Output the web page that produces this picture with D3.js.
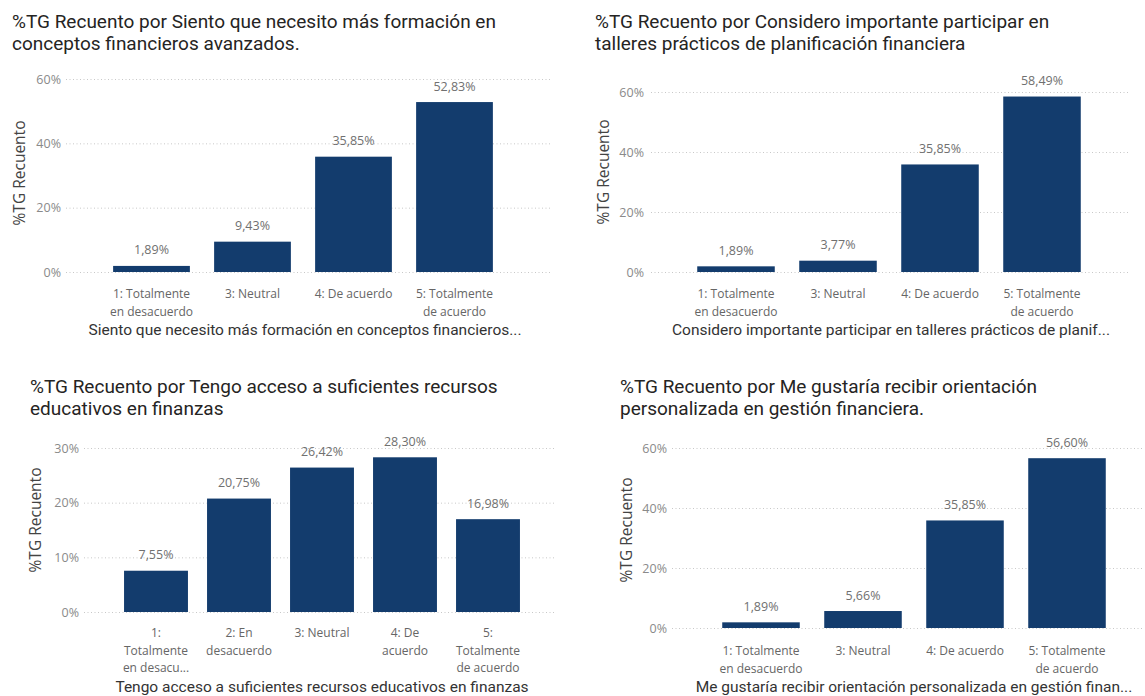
<!DOCTYPE html>
<html>
<head>
<meta charset="utf-8">
<script src="https://cdn.jsdelivr.net/npm/d3@7"></script>
<style>
  html, body { margin: 0; padding: 0; background: #ffffff; }
  svg { display: block; }
</style>
</head>
<body>
<svg id="chart" width="1145" height="696"></svg>
<script>
// ---------- DATA ----------
const title1 = ["%TG Recuento por Siento que necesito más formación en", "conceptos financieros avanzados."];
const cats1 = ["1: Totalmente en desacuerdo", "3: Neutral", "4: De acuerdo", "5: Totalmente de acuerdo"];
const vals1 = [1.89, 9.43, 35.85, 52.83];
const ticks1 = [0, 20, 40, 60];
const catLabels1 = [["1: Totalmente", "en desacuerdo"], ["3: Neutral"], ["4: De acuerdo"], ["5: Totalmente", "de acuerdo"]];
const xTitle1 = "Siento que necesito más formación en conceptos financieros...";

const title2 = ["%TG Recuento por Considero importante participar en", "talleres prácticos de planificación financiera"];
const cats2 = ["1: Totalmente en desacuerdo", "3: Neutral", "4: De acuerdo", "5: Totalmente de acuerdo"];
const vals2 = [1.89, 3.77, 35.85, 58.49];
const ticks2 = [0, 20, 40, 60];
const catLabels2 = [["1: Totalmente", "en desacuerdo"], ["3: Neutral"], ["4: De acuerdo"], ["5: Totalmente", "de acuerdo"]];
const xTitle2 = "Considero importante participar en talleres prácticos de planif...";

const title3 = ["%TG Recuento por Tengo acceso a suficientes recursos", "educativos en finanzas"];
const cats3 = ["1: Totalmente en desacuerdo", "2: En desacuerdo", "3: Neutral", "4: De acuerdo", "5: Totalmente de acuerdo"];
const vals3 = [7.55, 20.75, 26.42, 28.30, 16.98];
const ticks3 = [0, 10, 20, 30];
const catLabels3 = [["1:", "Totalmente", "en desacu..."], ["2: En", "desacuerdo"], ["3: Neutral"], ["4: De", "acuerdo"], ["5:", "Totalmente", "de acuerdo"]];
const xTitle3 = "Tengo acceso a suficientes recursos educativos en finanzas";

const title4 = ["%TG Recuento por Me gustaría recibir orientación", "personalizada en gestión financiera."];
const cats4 = ["1: Totalmente en desacuerdo", "3: Neutral", "4: De acuerdo", "5: Totalmente de acuerdo"];
const vals4 = [1.89, 5.66, 35.85, 56.60];
const ticks4 = [0, 20, 40, 60];
const catLabels4 = [["1: Totalmente", "en desacuerdo"], ["3: Neutral"], ["4: De acuerdo"], ["5: Totalmente", "de acuerdo"]];
const xTitle4 = "Me gustaría recibir orientación personalizada en gestión finan...";

const yAxisTitle = "%TG Recuento";

// ---------- LAYOUT (positions, not data) ----------
const panels = [
  { title: title1, cats: cats1, vals: vals1, ticks: ticks1, catLabels: catLabels1, xTitle: xTitle1,
    titleX: 12, titleY: 22, yTitleX: 19, yTitleY: 173, tickX: 61, gridX0: 66, gridX1: 552,
    y0: 272, y1: 79, bandX0: 101, bandX1: 505, padIn: 0.24, catY: 294, xTitleX: 305, xTitleY: 330 },
  { title: title2, cats: cats2, vals: vals2, ticks: ticks2, catLabels: catLabels2, xTitle: xTitle2,
    titleX: 595, titleY: 22, yTitleX: 603, yTitleY: 172, tickX: 644, gridX0: 651, gridX1: 1130,
    y0: 272, y1: 92, bandX0: 685, bandX1: 1093, padIn: 0.24, catY: 294, xTitleX: 891, xTitleY: 330 },
  { title: title3, cats: cats3, vals: vals3, ticks: ticks3, catLabels: catLabels3, xTitle: xTitle3,
    titleX: 30, titleY: 387, yTitleX: 35, yTitleY: 520, tickX: 79, gridX0: 84, gridX1: 556,
    y0: 612, y1: 448, bandX0: 114.5, bandX1: 529.5, padIn: 0.23, catY: 633, xTitleX: 322, xTitleY: 687 },
  { title: title4, cats: cats4, vals: vals4, ticks: ticks4, catLabels: catLabels4, xTitle: xTitle4,
    titleX: 620, titleY: 387, yTitleX: 626, yTitleY: 530, tickX: 667, gridX0: 672, gridX1: 1143,
    y0: 628, y1: 448, bandX0: 710, bandX1: 1118, padIn: 0.24, catY: 651, xTitleX: 914, xTitleY: 687 }
];

const BAR = "#133c6d";
const TITLE_FONT = "Roboto, 'Noto Sans', sans-serif";
const LABEL_FONT = "'Open Sans', 'Noto Sans', sans-serif";
const fmtVal = v => d3.format(".2f")(v).replace(".", ",") + "%";
const fmtTick = v => v + "%";

const svg = d3.select("#chart");

panels.forEach(p => {
  const g = svg.append("g");

  // title
  const t = g.append("text")
    .attr("x", p.titleX).attr("y", p.titleY - 1)
    .attr("font-family", TITLE_FONT).attr("font-size", 19)
    .attr("fill", "#252423");
  p.title.forEach((line, i) => {
    t.append("tspan").attr("x", p.titleX).attr("dy", i === 0 ? "0.35em" : 22).text(line);
  });

  // scales
  const x = d3.scaleBand().domain(p.cats).range([p.bandX0, p.bandX1])
    .paddingInner(p.padIn).paddingOuter(p.padIn / 2);
  const y = d3.scaleLinear().domain([0, p.ticks[p.ticks.length - 1]]).range([p.y0, p.y1]);

  // gridlines via axis
  const grid = g.append("g").attr("transform", `translate(${p.gridX0},0)`)
    .call(d3.axisRight(y).tickValues(p.ticks).tickSize(p.gridX1 - p.gridX0).tickFormat(""));
  grid.select(".domain").remove();
  grid.selectAll(".tick line").attr("stroke", "#c8c8c8").attr("stroke-dasharray", "1,2.5").attr("stroke-width", 1);

  // y tick labels via axis
  const yAx = g.append("g").attr("transform", `translate(${p.tickX},0)`)
    .call(d3.axisLeft(y).tickValues(p.ticks).tickSize(0).tickPadding(0).tickFormat(fmtTick));
  yAx.select(".domain").remove();
  yAx.selectAll("text").attr("font-family", LABEL_FONT).attr("font-size", 12.5).attr("fill", "#8a8a8a");

  // y title
  g.append("text")
    .attr("transform", `translate(${p.yTitleX},${p.yTitleY}) rotate(-90)`)
    .attr("text-anchor", "middle").attr("dominant-baseline", "central")
    .attr("font-family", LABEL_FONT).attr("font-size", 15.5).attr("fill", "#444")
    .text(yAxisTitle);

  // bars
  g.selectAll("rect.bar").data(p.vals).enter().append("rect")
    .attr("class", "bar")
    .attr("x", (d, i) => x(p.cats[i]))
    .attr("width", x.bandwidth())
    .attr("y", d => y(d))
    .attr("height", d => y(0) - y(d))
    .attr("fill", BAR);

  // value labels
  g.selectAll("text.val").data(p.vals).enter().append("text")
    .attr("class", "val")
    .attr("x", (d, i) => x(p.cats[i]) + x.bandwidth() / 2)
    .attr("y", d => y(d) - 16)
    .attr("text-anchor", "middle").attr("dominant-baseline", "central")
    .attr("font-family", LABEL_FONT).attr("font-size", 12.5).attr("fill", "#707070")
    .text(d => fmtVal(d));

  // category labels via axis
  const xAx = g.append("g").attr("transform", `translate(0,${p.catY})`)
    .call(d3.axisBottom(x).tickSize(0).tickPadding(0).tickFormat(""));
  xAx.select(".domain").remove();
  xAx.selectAll(".tick").each(function(d, i) {
    const tx = d3.select(this).append("text")
      .attr("text-anchor", "middle")
      .attr("font-family", LABEL_FONT).attr("font-size", 12).attr("fill", "#666");
    p.catLabels[i].forEach((line, j) => {
      tx.append("tspan").attr("x", 0).attr("y", j * 17.5).attr("dy", "0.35em").text(line);
    });
  });

  // x title
  g.append("text")
    .attr("x", p.xTitleX).attr("y", p.xTitleY)
    .attr("text-anchor", "middle").attr("dominant-baseline", "central")
    .attr("font-family", TITLE_FONT).attr("font-size", 15.5).attr("fill", "#333")
    .text(p.xTitle);
});
</script>
</body>
</html>
